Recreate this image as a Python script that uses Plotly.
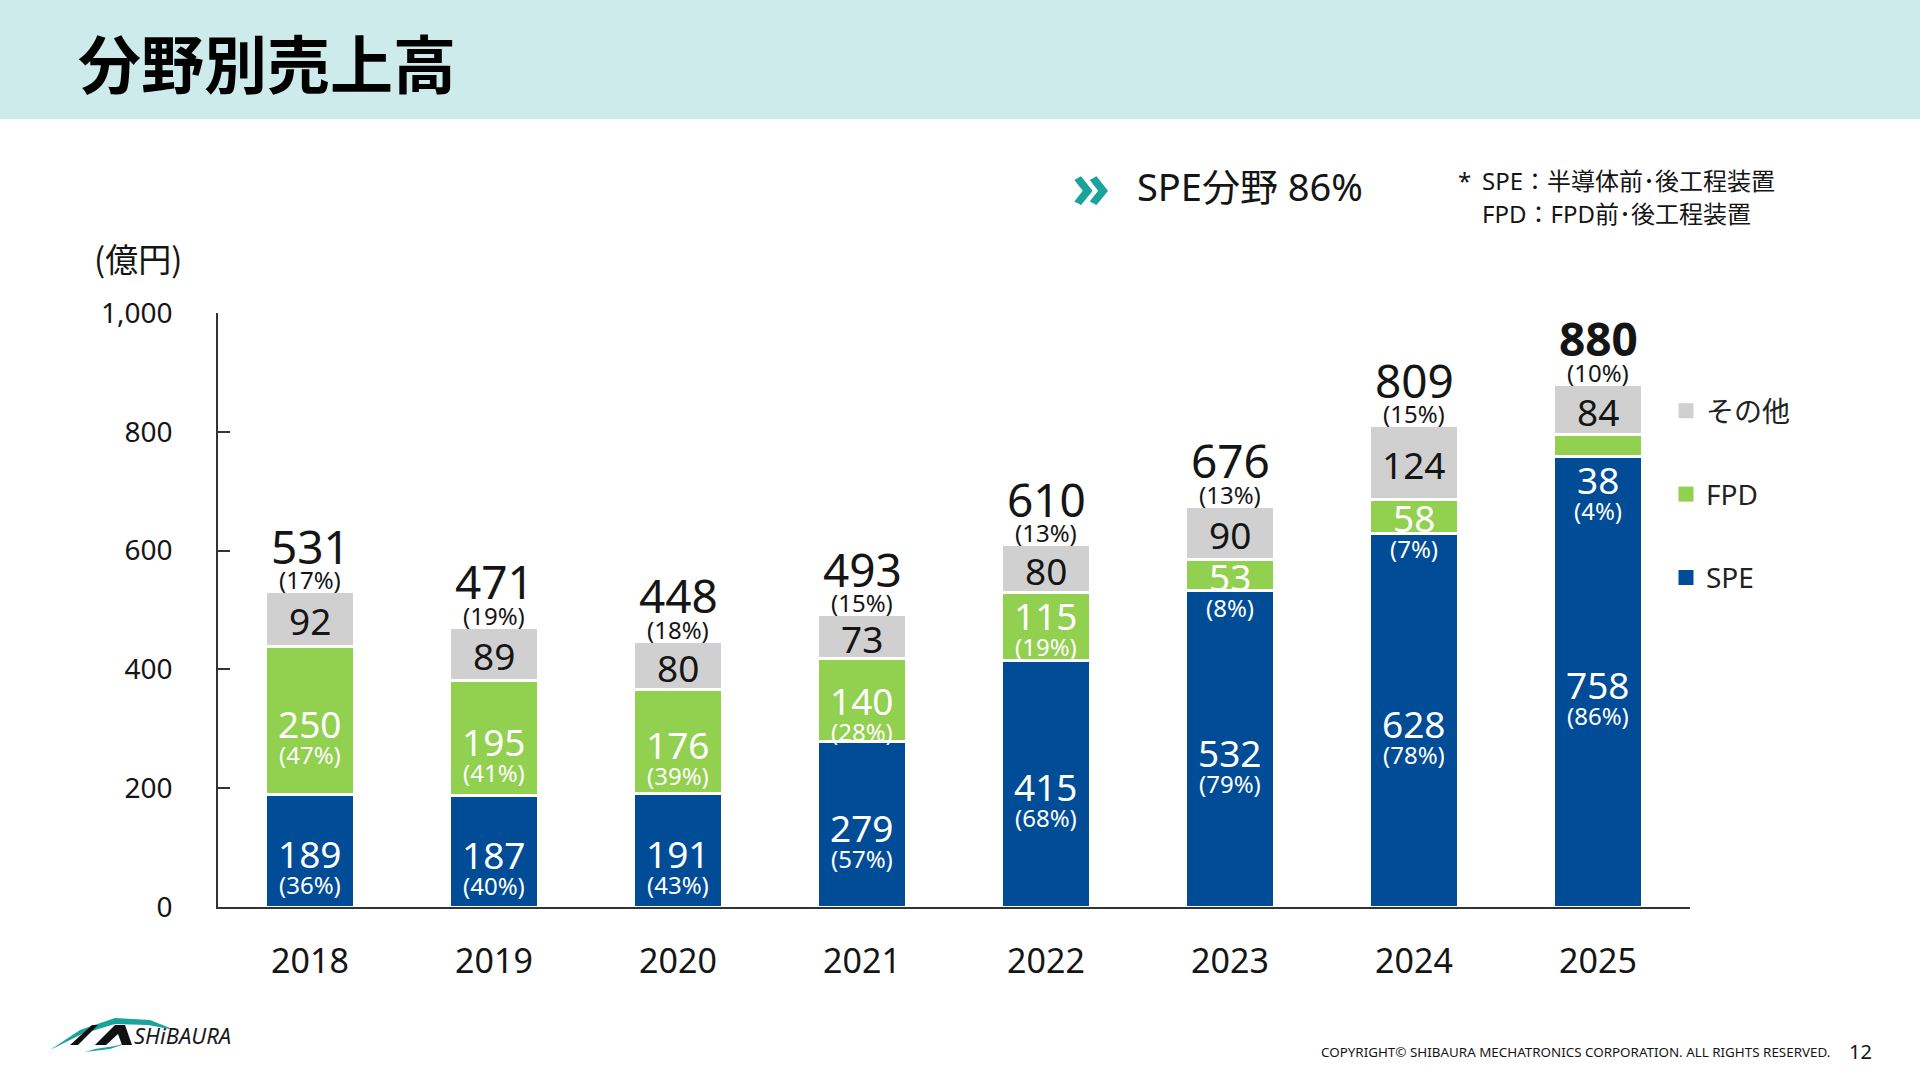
import plotly.graph_objects as go

# Sales by segment (億円)
years = ["2018", "2019", "2020", "2021", "2022", "2023", "2024", "2025"]
spe = [189, 187, 191, 279, 415, 532, 628, 758]
fpd = [250, 195, 176, 140, 115, 53, 58, 38]
other = [92, 89, 80, 73, 80, 90, 124, 84]
totals = [531, 471, 448, 493, 610, 676, 809, 880]
spe_pct = [36, 40, 43, 57, 68, 79, 78, 86]
fpd_pct = [47, 41, 39, 28, 19, 8, 7, 4]
other_pct = [17, 19, 18, 15, 13, 13, 15, 10]

y_ticks = [0, 200, 400, 600, 800, 1000]

BLUE = "#004C97"
GREEN = "#92D050"
GREY = "#D0D0D0"
TEAL = "#1AA39A"
INK = "#151515"
FONT = "Noto Sans, Noto Sans CJK JP, sans-serif"
JP = "Noto Sans CJK JP, Noto Sans, sans-serif"

# plot area in page pixels
L, R, T, B = 218, 1690, 313, 907

VAL_SIZE = 37
PCT_SIZE = 24
TOT_SIZE = 46


def xp(px):
    return (px - L) / (R - L)


def yp(py):
    return (B - py) / (B - T)


fig = go.Figure()

series = [("SPE", spe, BLUE, 3), ("FPD", fpd, GREEN, 2), ("その他", other, GREY, 1)]
for name, vals, color, rank in series:
    fig.add_trace(go.Bar(
        x=years, y=vals, name=name, showlegend=False,
        marker=dict(color=color, line=dict(color="white", width=3)),
        hoverinfo="skip",
    ))
# legend entries with larger square swatches
for name, vals, color, rank in series:
    fig.add_trace(go.Scatter(
        x=[None], y=[None], mode="markers", name=name, legendgroup=name, legendrank=rank,
        marker=dict(symbol="square", size=15, color=color),
    ))

annotations = []


def label(i, y, text, size, color, yshift=0, bold=False):
    if bold:
        text = "<b>" + text + "</b>"
    annotations.append(dict(
        x=i, y=y, xref="x", yref="y", text=text, showarrow=False,
        yshift=yshift, font=dict(family=FONT, size=size, color=color),
        xanchor="center", yanchor="middle", borderpad=0,
    ))


def pair(i, y, value, pct, color, shift=0):
    label(i, y, str(value), VAL_SIZE, color, yshift=shift - 3)
    label(i, y, "(%d%%)" % pct, PCT_SIZE, color, yshift=shift - 34)


for i, yr in enumerate(years):
    s, f, o = spe[i], fpd[i], other[i]
    top = s + f + o
    # SPE
    pair(i, s / 2, s, spe_pct[i], "white")
    # FPD: tiny segment -> label sits in the SPE bar; mid-sized -> pair centred
    if f < 45:
        pair(i, s, f, fpd_pct[i], "white", shift=-20)
    elif 80 <= f < 130:
        pair(i, s + f / 2, f, fpd_pct[i], "white", shift=14)
    elif f < 150:
        pair(i, s + f / 2, f, fpd_pct[i], "white", shift=2)
    else:
        pair(i, s + f / 2, f, fpd_pct[i], "white")
    # other
    label(i, s + f + o / 2, str(o), VAL_SIZE, INK, yshift=-2)
    label(i, top, "(%d%%)" % other_pct[i], PCT_SIZE, INK, yshift=12)
    label(i, top, str(totals[i]), TOT_SIZE, INK, yshift=46, bold=(i == len(years) - 1))


def page_text(px, py, text, size, color=INK, anchor="left", family=FONT):
    annotations.append(dict(
        x=xp(px), y=yp(py), xref="paper", yref="paper", text=text,
        showarrow=False, xanchor=anchor, yanchor="middle",
        font=dict(family=family, size=size, color=color),
    ))


page_text(76, 61, "<b>分野別売上高</b>", 63, "black", family=JP)
page_text(92, 258, "(億円)", 33, family=JP)
page_text(1070, 184, "<b>»</b>", 62, TEAL)
page_text(1135, 186, "SPE分野 86%", 38, family=FONT)
page_text(1456, 180, "*", 24)
page_text(1480, 180, "SPE：半導体前･後工程装置", 24, family=FONT)
page_text(1480, 213, "FPD：FPD前･後工程装置", 24, family=FONT)
page_text(132, 1035, "<i>SHiBAURA</i>", 22, "#1a1a1a")
page_text(1832, 1052, "COPYRIGHT© SHIBAURA MECHATRONICS CORPORATION. ALL RIGHTS RESERVED.", 13.4, anchor="right")
page_text(1860, 1051, "12", 20, anchor="center")


def ppath(points):
    parts = []
    for cmd, px, py in points:
        parts.append("%s %.5f,%.5f" % (cmd, xp(px), yp(py)))
    return " ".join(parts) + " Z"


shapes = [
    # header band
    dict(type="rect", xref="paper", yref="paper", x0=xp(0), x1=xp(1920), y0=yp(0), y1=yp(119),
         fillcolor="#CDEBEB", line=dict(width=0), layer="below"),
    # logo swoosh and marks
    dict(type="path", xref="paper", yref="paper", layer="above", fillcolor=TEAL, line=dict(width=0),
         path=ppath([("M", 50, 1050), ("L", 80, 1030), ("L", 115, 1018), ("L", 150, 1020),
                     ("L", 175, 1030), ("L", 148, 1025), ("L", 115, 1024), ("L", 82, 1034)])),
    dict(type="path", xref="paper", yref="paper", layer="above", fillcolor=TEAL, line=dict(width=0),
         path=ppath([("M", 85, 1052), ("L", 110, 1049), ("L", 130, 1042), ("L", 115, 1046), ("L", 95, 1049)])),
    dict(type="path", xref="paper", yref="paper", layer="above", fillcolor="#111111", line=dict(width=0),
         path=ppath([("M", 70, 1045), ("L", 92, 1025), ("L", 98, 1025), ("L", 78, 1045)])),
    dict(type="path", xref="paper", yref="paper", layer="above", fillcolor="#111111", line=dict(width=0),
         path=ppath([("M", 95, 1045), ("L", 115, 1025), ("L", 125, 1025), ("L", 132, 1045), ("L", 122, 1045), ("L", 118, 1034), ("L", 106, 1045)])),
]

fig.update_layout(
    width=1920, height=1080,
    margin=dict(l=L, r=1920 - R, t=T, b=1080 - B, pad=0),
    paper_bgcolor="white", plot_bgcolor="white",
    barmode="stack", bargap=0.52,
    font=dict(family=FONT, color=INK),
    showlegend=True,
    legend=dict(
        x=xp(1666), y=yp(386), xanchor="left", yanchor="top",
        traceorder="grouped", tracegroupgap=44, itemsizing="trace",
        font=dict(family=FONT, size=28, color="#222"),
        bgcolor="rgba(0,0,0,0)", itemclick=False, itemdoubleclick=False,
    ),
    xaxis=dict(
        type="category", range=[-0.5, len(years) - 0.5],
        showline=True, linecolor="#333", linewidth=1.5, ticks="",
        showgrid=False, zeroline=False, fixedrange=True,
        tickfont=dict(family=FONT, size=34, color=INK), ticklabelstandoff=23,
    ),
    yaxis=dict(
        range=[0, 1000], tickvals=y_ticks, tickformat=",",
        showline=True, linecolor="#333", linewidth=1.5,
        ticks="inside", ticklen=12, tickcolor="#333", tickwidth=1.5,
        showgrid=False, zeroline=False, fixedrange=True,
        tickfont=dict(family=FONT, size=28, color=INK), ticklabelstandoff=38,
    ),
    annotations=annotations,
    shapes=shapes,
)

fig.write_html("out.html", config={"displayModeBar": False},
               post_script="document.body.style.margin='0';")
